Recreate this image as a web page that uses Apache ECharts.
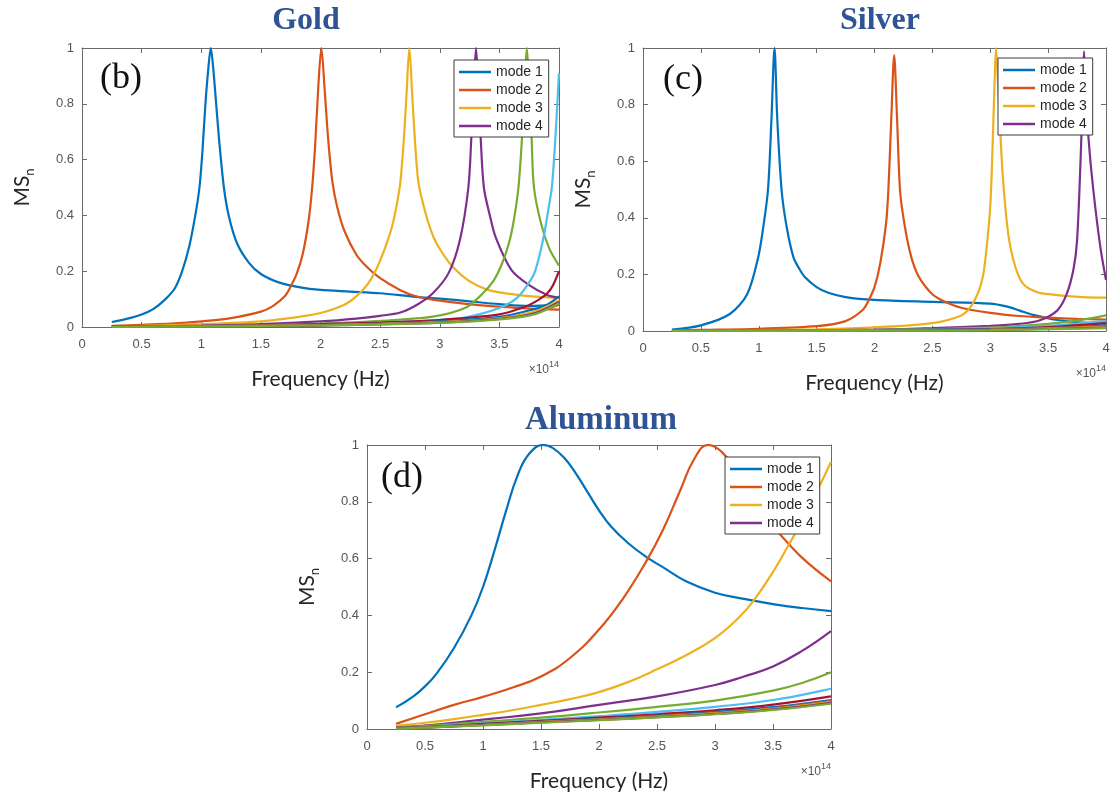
<!DOCTYPE html>
<html><head><meta charset="utf-8">
<script src="https://cdn.jsdelivr.net/npm/echarts@6/dist/echarts.min.js"></script>
<style>html,body{margin:0;padding:0;background:#fff}#c{width:1112px;height:801px}</style>
</head><body><div id="c"></div>
<script>
// ---------- tick labels / names ----------
const xTickLabels = ['0','0.5','1','1.5','2','2.5','3','3.5','4'];
const yTickLabels = ['0','0.2','0.4','0.6','0.8','1'];
const modeNames = ['mode 1','mode 2','mode 3','mode 4','mode 5','mode 6','mode 7','mode 8','mode 9','mode 10','mode 11','mode 12'];
const legendNames = ['mode 1','mode 2','mode 3','mode 4'];
const panelTitles = ['Gold','Silver','Aluminum'];
const panelTags = ['(b)','(c)','(d)'];
const xAxisTitle = 'Frequency (Hz)';
const xScaleNote = '10';
const xScaleExp = '14';

// ---------- Gold (frequency in 1e14 Hz, MS_n) ----------
const gold1 = [[0.25,0.018],[0.4,0.032],[0.5,0.045],[0.6,0.065],[0.7,0.1],[0.78,0.14],[0.84,0.2],[0.9,0.29],[0.95,0.4],[0.985,0.5],[1.01,0.63],[1.035,0.8],[1.06,0.93],[1.08,1.0],[1.1,0.93],[1.125,0.8],[1.15,0.67],[1.19,0.5],[1.23,0.4],[1.3,0.3],[1.4,0.23],[1.5,0.19],[1.65,0.16],[1.83,0.142],[2.0,0.133],[2.25,0.127],[2.5,0.121],[2.8,0.108],[3.0,0.102],[3.25,0.092],[3.5,0.082],[3.75,0.075],[4.0,0.08]];
const gold2 = [[0.25,0.004],[0.5,0.008],[0.75,0.012],[1.0,0.02],[1.25,0.032],[1.5,0.055],[1.6,0.075],[1.7,0.11],[1.75,0.145],[1.8,0.19],[1.85,0.26],[1.9,0.38],[1.93,0.5],[1.955,0.65],[1.98,0.85],[2.007,1.0],[2.035,0.85],[2.065,0.67],[2.1,0.52],[2.14,0.43],[2.2,0.345],[2.3,0.26],[2.39,0.215],[2.5,0.175],[2.67,0.132],[2.8,0.11],[2.94,0.098],[3.22,0.083],[3.5,0.073],[3.75,0.066],[4.0,0.062]];
const gold3 = [[0.25,0.002],[0.5,0.004],[1.0,0.01],[1.5,0.02],[1.83,0.037],[2.0,0.05],[2.2,0.08],[2.3,0.11],[2.39,0.15],[2.46,0.2],[2.53,0.27],[2.6,0.36],[2.64,0.44],[2.67,0.52],[2.7,0.68],[2.722,0.84],[2.745,1.0],[2.768,0.84],[2.793,0.66],[2.82,0.52],[2.85,0.46],[2.9,0.38],[2.95,0.32],[3.0,0.28],[3.09,0.225],[3.23,0.17],[3.39,0.135],[3.5,0.124],[3.65,0.115],[3.8,0.109],[4.0,0.104]];
const gold4 = [[0.25,0.001],[0.5,0.002],[1.0,0.005],[1.5,0.01],[2.0,0.02],[2.3,0.03],[2.5,0.04],[2.67,0.052],[2.81,0.08],[2.94,0.12],[3.075,0.194],[3.17,0.314],[3.24,0.5],[3.265,0.68],[3.285,0.86],[3.304,1.0],[3.323,0.86],[3.343,0.68],[3.37,0.5],[3.42,0.4],[3.47,0.32],[3.6,0.205],[3.75,0.15],[3.9,0.115],[4.0,0.105]];
const gold5 = [[0.25,0.001],[1.0,0.003],[1.5,0.006],[2.0,0.012],[2.5,0.022],[2.94,0.037],[3.22,0.07],[3.36,0.12],[3.45,0.165],[3.52,0.225],[3.58,0.3],[3.62,0.38],[3.66,0.5],[3.69,0.68],[3.71,0.86],[3.73,1.0],[3.75,0.86],[3.77,0.68],[3.79,0.5],[3.85,0.37],[3.92,0.28],[4.0,0.22]];
const gold6 = [[0.25,0.001],[1.0,0.003],[2.0,0.01],[2.5,0.016],[3.0,0.026],[3.22,0.035],[3.5,0.068],[3.65,0.105],[3.75,0.16],[3.8,0.2],[3.87,0.32],[3.91,0.42],[3.94,0.5],[3.97,0.68],[4.0,0.91]];
const gold7 = [[0.25,0.001],[1.0,0.003],[2.0,0.01],[2.5,0.016],[3.0,0.025],[3.5,0.045],[3.7,0.07],[3.8,0.09],[3.9,0.12],[3.95,0.15],[4.0,0.2]];
const gold8 = [[0.25,0.0],[1.0,0.002],[2.0,0.007],[2.5,0.012],[3.0,0.02],[3.5,0.036],[3.8,0.065],[3.9,0.08],[4.0,0.11]];
const gold9 = [[0.25,0.0],[1.0,0.002],[2.0,0.007],[3.0,0.018],[3.5,0.032],[3.8,0.052],[4.0,0.08]];
const gold10 = [[0.25,0.0],[1.0,0.002],[2.0,0.007],[3.0,0.017],[3.5,0.031],[3.8,0.056],[4.0,0.095]];
const gold11 = [[0.25,0.0],[1.0,0.002],[2.0,0.006],[3.0,0.016],[3.5,0.029],[3.8,0.05],[4.0,0.09]];
const gold12 = [[0.25,0.0],[1.0,0.002],[2.0,0.006],[3.0,0.015],[3.5,0.027],[3.8,0.046],[4.0,0.085]];

// ---------- Silver ----------
const silver1 = [[0.25,0.005],[0.5,0.02],[0.75,0.06],[0.9,0.13],[0.995,0.26],[1.04,0.37],[1.08,0.5],[1.11,0.75],[1.136,1.0],[1.16,0.75],[1.197,0.5],[1.24,0.37],[1.3,0.26],[1.35,0.22],[1.4,0.19],[1.5,0.155],[1.6,0.135],[1.75,0.12],[2.0,0.11],[2.5,0.103],[3.0,0.097],[3.14,0.087],[3.25,0.073],[3.37,0.057],[3.58,0.039],[3.8,0.03],[4.0,0.026]];
const silver2 = [[0.25,0.002],[0.5,0.004],[1.0,0.008],[1.5,0.017],[1.75,0.035],[1.9,0.075],[1.95,0.109],[2.0,0.155],[2.05,0.24],[2.1,0.38],[2.12,0.5],[2.145,0.75],[2.17,0.975],[2.195,0.75],[2.22,0.5],[2.25,0.4],[2.3,0.29],[2.35,0.22],[2.4,0.18],[2.5,0.13],[2.6,0.105],[2.75,0.082],[3.0,0.064],[3.25,0.053],[3.5,0.047],[3.75,0.043],[4.0,0.04]];
const silver3 = [[0.25,0.0],[1.0,0.003],[1.5,0.006],[2.0,0.013],[2.5,0.028],[2.75,0.055],[2.83,0.085],[2.9,0.14],[2.94,0.2],[2.97,0.3],[3.0,0.44],[3.02,0.65],[3.04,0.91],[3.05,1.0],[3.07,0.85],[3.1,0.6],[3.13,0.44],[3.16,0.33],[3.2,0.25],[3.25,0.19],[3.3,0.16],[3.4,0.138],[3.5,0.13],[3.65,0.124],[3.8,0.12],[4.0,0.118]];
const silver4 = [[0.25,0.0],[1.0,0.001],[2.0,0.005],[2.5,0.01],[3.0,0.018],[3.25,0.025],[3.43,0.038],[3.58,0.073],[3.66,0.13],[3.72,0.22],[3.75,0.32],[3.78,0.6],[3.8,0.85],[3.81,0.988],[3.825,0.85],[3.85,0.675],[3.89,0.5],[3.95,0.3],[4.0,0.18]];
const silver5 = [[0.25,0.0],[1.0,0.001],[2.0,0.004],[3.0,0.012],[3.5,0.025],[3.8,0.04],[4.0,0.055]];
const silver6 = [[0.25,0.0],[1.0,0.001],[2.0,0.003],[3.0,0.009],[3.5,0.018],[4.0,0.036]];
const silver7 = [[0.25,0.0],[2.0,0.003],[3.0,0.007],[3.5,0.014],[4.0,0.028]];
const silver8 = [[0.25,0.0],[2.0,0.002],[3.0,0.006],[3.5,0.01],[4.0,0.02]];
const silver9 = [[0.25,0.0],[2.0,0.002],[3.0,0.005],[4.0,0.016]];
const silver10 = [[0.25,0.0],[2.0,0.002],[3.0,0.004],[4.0,0.014]];
const silver11 = [[0.25,0.0],[2.0,0.001],[3.0,0.004],[4.0,0.012]];
const silver12 = [[0.25,0.0],[2.0,0.001],[3.0,0.003],[4.0,0.01]];

// ---------- Aluminum ----------
const alum1 = [[0.25,0.076],[0.4,0.115],[0.5,0.15],[0.6,0.195],[0.75,0.285],[0.9,0.4],[1.0,0.5],[1.1,0.63],[1.2,0.77],[1.3,0.895],[1.4,0.97],[1.52,1.0],[1.6,0.99],[1.7,0.955],[1.8,0.9],[1.9,0.835],[2.0,0.77],[2.1,0.715],[2.25,0.655],[2.41,0.605],[2.55,0.57],[2.75,0.52],[3.0,0.48],[3.25,0.458],[3.5,0.44],[3.75,0.426],[4.0,0.415]];
const alum2 = [[0.25,0.018],[0.5,0.052],[0.75,0.085],[1.0,0.113],[1.25,0.145],[1.5,0.185],[1.75,0.25],[2.0,0.35],[2.2,0.455],[2.4,0.585],[2.55,0.7],[2.7,0.84],[2.82,0.95],[2.94,1.0],[3.06,0.975],[3.2,0.9],[3.35,0.8],[3.5,0.715],[3.65,0.645],[3.8,0.585],[4.0,0.52]];
const alum3 = [[0.25,0.012],[0.5,0.022],[0.75,0.035],[1.0,0.05],[1.25,0.066],[1.5,0.085],[1.75,0.105],[2.0,0.13],[2.25,0.165],[2.5,0.21],[2.75,0.26],[3.0,0.32],[3.2,0.39],[3.33,0.45],[3.52,0.566],[3.63,0.645],[3.72,0.71],[3.8,0.775],[3.9,0.855],[4.0,0.94]];
const alum4 = [[0.25,0.006],[0.5,0.012],[1.0,0.033],[1.5,0.055],[2.0,0.085],[2.5,0.115],[3.0,0.155],[3.25,0.185],[3.5,0.22],[3.75,0.275],[4.0,0.345]];
const alum5 = [[0.25,0.004],[0.5,0.01],[1.0,0.025],[1.5,0.04],[2.0,0.058],[2.5,0.078],[3.0,0.1],[3.5,0.135],[3.75,0.162],[4.0,0.2]];
const alum6 = [[0.25,0.003],[0.5,0.008],[1.0,0.02],[1.5,0.032],[2.0,0.045],[2.5,0.06],[3.0,0.078],[3.5,0.102],[4.0,0.142]];
const alum7 = [[0.25,0.003],[0.5,0.007],[1.0,0.018],[1.5,0.029],[2.0,0.04],[2.5,0.052],[3.0,0.066],[3.5,0.086],[4.0,0.115]];
const alum8 = [[0.25,0.002],[0.5,0.006],[1.0,0.016],[1.5,0.026],[2.0,0.036],[2.5,0.047],[3.0,0.06],[3.5,0.077],[4.0,0.102]];
const alum9 = [[0.25,0.002],[0.5,0.006],[1.0,0.015],[1.5,0.025],[2.0,0.034],[2.5,0.045],[3.0,0.057],[3.5,0.073],[4.0,0.098]];
const alum10 = [[0.25,0.002],[0.5,0.005],[1.0,0.014],[1.5,0.024],[2.0,0.033],[2.5,0.043],[3.0,0.055],[3.5,0.071],[4.0,0.095]];
const alum11 = [[0.25,0.002],[0.5,0.005],[1.0,0.014],[1.5,0.023],[2.0,0.032],[2.5,0.042],[3.0,0.053],[3.5,0.069],[4.0,0.092]];
const alum12 = [[0.25,0.001],[0.5,0.005],[1.0,0.013],[1.5,0.022],[2.0,0.031],[2.5,0.041],[3.0,0.052],[3.5,0.067],[4.0,0.089]];

const goldSeries = [gold1,gold2,gold3,gold4,gold5,gold6,gold7,gold8,gold9,gold10,gold11,gold12];
const silverSeries = [silver1,silver2,silver3,silver4,silver5,silver6,silver7,silver8,silver9,silver10,silver11,silver12];
const alumSeries = [alum1,alum2,alum3,alum4,alum5,alum6,alum7,alum8,alum9,alum10,alum11,alum12];
const panels = [goldSeries, silverSeries, alumSeries];

// ---------- styling / layout ----------
const modeColors = ['#0072BD','#D95319','#EDB120','#7E2F8E','#77AC30','#4DBEEE','#A2142F'];
const AX = '#6a6a6a', LBL = '#555555';
const grids = [
  {left:82, top:48, width:477, height:279},
  {left:643, top:48, width:463, height:283},
  {left:367, top:445, width:464, height:284}
];
const legendPos = [{left:454, top:60},{left:998, top:58},{left:725, top:457}];
const titlePos = [[306,21],[880,21],[601,420]];
const titleSize = [32,32,33];
const tagPos = [[121,79],[683,80],[402,478]];

const xAxes = [], yAxes = [], series = [];
grids.forEach((g,i)=>{
  const base = {gridIndex:i, type:'value', min:0, max:4, interval:0.5,
    axisLine:{show:true, onZero:false, lineStyle:{color:AX, width:1}},
    axisTick:{show:true, inside:true, length:5, lineStyle:{color:AX, width:1}},
    splitLine:{show:false}};
  xAxes.push(Object.assign({}, base, {position:'bottom',
    axisLabel:{show:true, color:LBL, fontSize:13, margin:11, fontFamily:'Liberation Sans',
      formatter:(v)=>xTickLabels[Math.round(v*2)]},
    name:xAxisTitle, nameLocation:'middle', nameGap:42,
    nameTextStyle:{fontSize:21, color:'#262626', fontFamily:'Lato'}}));
  xAxes.push(Object.assign({}, base, {position:'top', axisLabel:{show:false}}));
  const ybase = {gridIndex:i, type:'value', min:0, max:1, interval:0.2,
    axisLine:{show:true, onZero:false, lineStyle:{color:AX, width:1}},
    axisTick:{show:true, inside:true, length:5, lineStyle:{color:AX, width:1}},
    splitLine:{show:false}};
  yAxes.push(Object.assign({}, ybase, {position:'left',
    axisLabel:{show:true, color:LBL, fontSize:13, margin:8, fontFamily:'Liberation Sans',
      formatter:(v)=>yTickLabels[Math.round(v*5)]},
    name:'{m|MS}{n|n}', nameLocation:'middle', nameGap:46, nameRotate:90,
    nameTextStyle:{rich:{
      m:{fontSize:21, color:'#262626', fontFamily:'Lato', lineHeight:28, verticalAlign:'middle'},
      n:{fontSize:13, color:'#262626', fontFamily:'Lato', verticalAlign:'bottom'}}}}));
  yAxes.push(Object.assign({}, ybase, {position:'right', axisLabel:{show:false}}));
  panels[i].forEach((d,k)=>{
    const col = modeColors[k % modeColors.length];
    series.push({type:'line', name:modeNames[k], xAxisIndex:2*i, yAxisIndex:2*i, data:d,
      symbol:'none', showSymbol:false, smooth:i===2?0.45:0.3, clip:true, silent:true,
      lineStyle:{width:2.2, color:col}, itemStyle:{color:col}});
  });
});

const legends = legendPos.map(p=>({
  data:legendNames, orient:'vertical', left:p.left, top:p.top,
  icon:'rect', itemWidth:32, itemHeight:2.5, itemGap:4,
  padding:[5,6,4,5], borderColor:'#3a3a3a', borderWidth:1, backgroundColor:'#ffffff',
  selectedMode:false, z:10,
  textStyle:{fontSize:14, color:'#262626', fontFamily:'Liberation Sans', lineHeight:14}
}));

const graphics = [];
panelTitles.forEach((t,i)=>{
  graphics.push({type:'text', x:titlePos[i][0], y:titlePos[i][1], z:20,
    style:{text:t, fill:'#2F5496', font:'bold '+titleSize[i]+'px "Liberation Serif"', align:'center', verticalAlign:'middle'}});
  graphics.push({type:'text', x:tagPos[i][0], y:tagPos[i][1], z:20,
    style:{text:panelTags[i], fill:'#111', font:'36px "Liberation Serif"', align:'center', verticalAlign:'middle'}});
  const g = grids[i];
  graphics.push({type:'text', x:g.left+g.width, y:g.top+g.height+41, z:20,
    style:{text:'{a|×'+xScaleNote+'}{b|'+xScaleExp+'}', align:'right', verticalAlign:'middle',
      rich:{a:{fontSize:12, fill:'#555', fontFamily:'Liberation Sans', lineHeight:16, verticalAlign:'bottom'},
            b:{fontSize:9, fill:'#555', fontFamily:'Liberation Sans', verticalAlign:'top'}}}});
});

const chart = echarts.init(document.getElementById('c'), null, {renderer:'canvas'});
chart.setOption({
  animation:false,
  backgroundColor:'#ffffff',
  grid:grids.map(g=>Object.assign({containLabel:false, outerBoundsMode:'none'}, g)),
  xAxis:xAxes, yAxis:yAxes, legend:legends, series:series, graphic:graphics
});
</script></body></html>
